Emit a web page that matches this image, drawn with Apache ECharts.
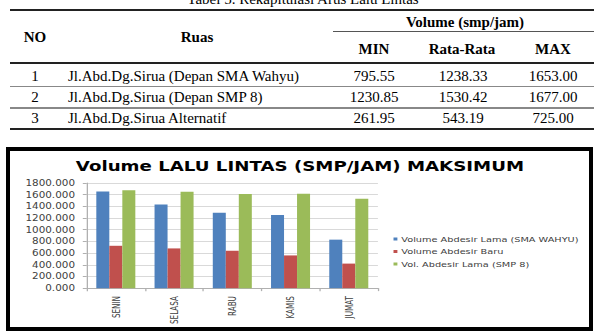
<!DOCTYPE html>
<html>
<head>
<meta charset="utf-8">
<script src="https://cdn.jsdelivr.net/npm/echarts@6/dist/echarts.min.js"></script>
<style>
  html, body { margin:0; padding:0; background:#fff; }
  body { width:598px; height:332px; position:relative; overflow:hidden; }
  .t { position:absolute; font-family:"Liberation Serif","Times New Roman",serif; font-size:15px; line-height:16px; color:#000; white-space:nowrap; }
  .b { font-weight:bold; }
  .c { transform:translateX(-50%); }
  .ln { position:absolute; background:#000; }
  #frame { position:absolute; left:6px; top:147px; width:579px; height:176px; border:4px solid #000; background:#fff; }
  #chart { position:absolute; left:10px; top:151px; width:446px; height:176px; transform:scaleX(1.3); transform-origin:0 0; }
</style>
</head>
<body>
<div id="frame"></div>
<div id="chart"></div>
<script>
// ---- table data ----
const tableCaption = "Tabel 5. Rekapitulasi Arus Lalu Lintas";
const rowNo = ["1", "2", "3"];
const rowRuas = ["Jl.Abd.Dg.Sirua (Depan SMA Wahyu)", "Jl.Abd.Dg.Sirua (Depan SMP 8)", "Jl.Abd.Dg.Sirua Alternatif"];
const rowMin = ["795.55", "1230.85", "261.95"];
const rowAvg = ["1238.33", "1530.42", "543.19"];
const rowMax = ["1653.00", "1677.00", "725.00"];

// ---- chart data ----
const chartTitle = "Volume LALU LINTAS (SMP/JAM) MAKSIMUM";
const categories = ["SENIN", "SELASA", "RABU", "KAMIS", "JUMAT"];
const seriesNames = ["Volume Abdesir Lama (SMA WAHYU)", "Volume Abdesir Baru", "Vol. Abdesir Lama (SMP 8)"];
const smaWahyu = [1653, 1430, 1290, 1250, 830];
const abdesirBaru = [725, 680, 640, 560, 420];
const smp8 = [1677, 1650, 1610, 1615, 1530];
const yTickLabels = ["0.000", "200.000", "400.000", "600.000", "800.000", "1000.000", "1200.000", "1400.000", "1600.000", "1800.000"];

// ---- build table ----
function addText(txt, x, yCenter, cls, center) {
  const d = document.createElement('div');
  d.className = 't ' + (cls || '') + (center ? ' c' : '');
  d.textContent = txt;
  d.style.left = x + 'px';
  d.style.top = (yCenter - 8) + 'px';
  document.body.appendChild(d);
}
function addLine(x, y, w, h, color) {
  const d = document.createElement('div');
  d.className = 'ln';
  d.style.left = x + 'px'; d.style.top = y + 'px';
  d.style.width = w + 'px'; d.style.height = h + 'px';
  if (color) d.style.background = color;
  document.body.appendChild(d);
}
addText(tableCaption, 303, -1, '', true);
addLine(10, 9, 584, 2, '#222');
addText("Volume (smp/jam)", 465, 21.5, 'b', true);
addLine(333, 31, 261, 1, '#555');
addText("NO", 35, 36.5, 'b', true);
addText("Ruas", 197, 36.5, 'b', true);
addText("MIN", 374, 48.5, 'b', true);
addText("Rata-Rata", 462, 48.5, 'b', true);
addText("MAX", 553, 48.5, 'b', true);
addLine(10, 62, 584, 1.5, '#222');
const rowY = [76, 97.3, 118.3];
for (let i = 0; i < rowNo.length; i++) {
  addText(rowNo[i], 35, rowY[i], '', true);
  addText(rowRuas[i], 68, rowY[i], '', false);
  addText(rowMin[i], 374, rowY[i], '', true);
  addText(rowAvg[i], 463, rowY[i], '', true);
  addText(rowMax[i], 553, rowY[i], '', true);
}
addLine(10, 86, 584, 1, '#888');
addLine(10, 107, 584, 1.5, '#888');
addLine(10, 127.5, 584, 2, '#222');

// ---- chart ----
const chart = echarts.init(document.getElementById('chart'), null, { renderer: 'svg' });
const colors = ['#4F81BD', '#C0504D', '#9BBB59'];
const seriesData = [smaWahyu, abdesirBaru, smp8];
chart.setOption({
  animation: false,
  color: colors,
  title: {
    text: chartTitle,
    left: 'center',
    top: 3,
    textStyle: { fontFamily: 'DejaVu Sans', fontWeight: 'bold', fontSize: 14, color: '#000' }
  },
  legend: {
    orient: 'vertical',
    left: 295,
    top: 84,
    padding: 0,
    itemGap: 4.5,
    itemWidth: 3,
    itemHeight: 3,
    icon: 'rect',
    textStyle: { fontFamily: 'DejaVu Sans', fontSize: 7.5, color: '#404040', padding: [0, 0, 0, -2] },
    data: seriesNames
  },
  grid: { left: 59, top: 32, width: 224, height: 106 },
  xAxis: {
    type: 'category',
    data: categories,
    axisLine: { lineStyle: { color: '#b0b0b0', width: 1 } },
    axisTick: { show: true, length: 3, lineStyle: { color: '#b0b0b0' } },
    axisLabel: { rotate: 90, margin: 8, fontFamily: '"Liberation Sans Narrow","DejaVu Sans Condensed","Liberation Sans",sans-serif', fontSize: 8, color: '#404040' }
  },
  yAxis: {
    type: 'value',
    min: 0, max: 1800, interval: 200,
    axisLine: { show: true, lineStyle: { color: '#b0b0b0', width: 1 } },
    axisTick: { show: true, length: 3, lineStyle: { color: '#b0b0b0' } },
    splitLine: { lineStyle: { color: '#d9d9d9', width: 1 } },
    axisLabel: {
      margin: 9, fontFamily: 'DejaVu Sans', fontSize: 8, color: '#404040',
      formatter: v => yTickLabels[Math.round(v / 200)]
    }
  },
  series: seriesNames.map((n, i) => ({
    name: n, type: 'bar', data: seriesData[i],
    barGap: '0%', barCategoryGap: '33%'
  }))
});
</script>
</body>
</html>
